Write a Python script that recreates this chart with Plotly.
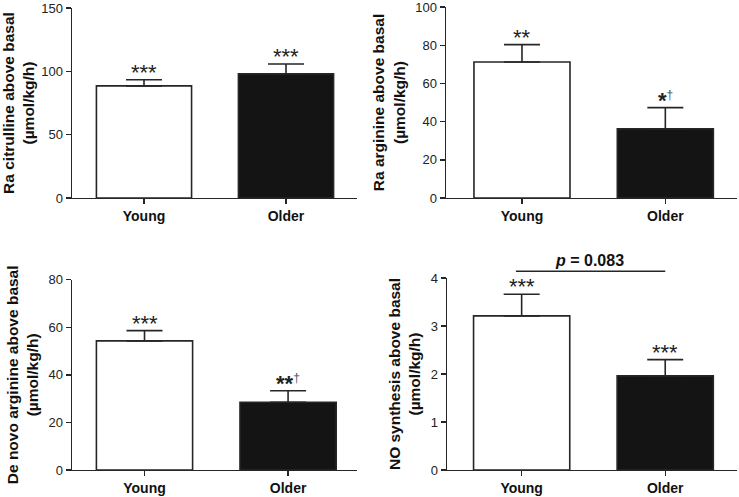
import plotly.graph_objects as go

groups = ["Young", "Older"]

DAG = "<sup><span style='font-size:12px;color:#555'>†</span></sup>"

ra_cit = [88.5, 98.0]
ra_cit_sem = [4.8, 7.8]
ra_cit_sig = ["***", "***"]

ra_arg = [71.2, 36.2]
ra_arg_sem = [9.1, 11.1]
ra_arg_sig = ["**", "<b>*</b>" + DAG]

denovo = [54.3, 28.5]
denovo_sem = [4.3, 4.8]
denovo_sig = ["***", "<b>**</b>" + DAG]

no_syn = [3.21, 1.96]
no_syn_sem = [0.45, 0.34]
no_syn_sig = ["***", "***"]

p_text = "<b><i>p</i> = 0.083</b>"

panels = [
    dict(vals=ra_cit, sem=ra_cit_sem, sig=ra_cit_sig, title="Ra citrulline above basal<br>(µmol/kg/h)",
         yrange=[0, 150], dtick=50, xd=[72, 357], yd=[8, 198], xr=[-0.507, 1.5]),
    dict(vals=ra_arg, sem=ra_arg_sem, sig=ra_arg_sig, title="Ra arginine above basal<br>(µmol/kg/h)",
         yrange=[0, 100], dtick=20, xd=[446, 737], yd=[7, 198], xr=[-0.53, 1.5]),
    dict(vals=denovo, sem=denovo_sem, sig=denovo_sig, title="De novo arginine above basal<br>(µmol/kg/h)",
         yrange=[0, 80], dtick=20, xd=[72, 357], yd=[279.7, 470], xr=[-0.505, 1.48]),
    dict(vals=no_syn, sem=no_syn_sem, sig=no_syn_sig, title="NO synthesis above basal<br>(µmol/kg/h)",
         yrange=[0, 4], dtick=1, xd=[447, 737], yd=[278, 470], xr=[-0.52, 1.5]),
]

W, H = 739, 497
INK = "#262626"
FONT = "Liberation Sans, Arial"
fig = go.Figure()
layout = {}
annotations = []
xs = list(range(len(groups)))

for i, p in enumerate(panels, start=1):
    sfx = "" if i == 1 else str(i)
    xa, ya = "x" + sfx, "y" + sfx
    fig.add_trace(go.Bar(
        x=xs, y=p["vals"], xaxis=xa, yaxis=ya, width=0.67,
        marker=dict(color=["white", "#141414"], line=dict(color=INK, width=1.6)),
        error_y=dict(type="data", array=p["sem"], arrayminus=[0] * len(groups),
                     symmetric=False, color=INK, thickness=1.6, width=18),
        showlegend=False, hoverinfo="skip",
    ))
    layout["xaxis" + sfx] = dict(
        domain=[p["xd"][0] / W, p["xd"][1] / W], anchor=ya, range=p["xr"],
        tickvals=xs, ticktext=["<b>%s</b>" % g for g in groups], automargin=False,
        showline=True, linecolor=INK, linewidth=1.4, ticks="outside", ticklen=5,
        tickwidth=1.4, tickcolor=INK, showgrid=False, zeroline=False,
        tickfont=dict(family=FONT, size=14, color="#111"), ticklabeloverflow="allow",
        fixedrange=True,
    )
    layout["yaxis" + sfx] = dict(
        domain=[1 - p["yd"][1] / H, 1 - p["yd"][0] / H], anchor=xa, range=p["yrange"],
        dtick=p["dtick"], tick0=0, automargin=False, ticklabeloverflow="allow",
        showline=True, linecolor=INK, linewidth=1.4, ticks="outside", ticklen=5,
        tickwidth=1.4, tickcolor=INK, showgrid=False, zeroline=False,
        tickfont=dict(family=FONT, size=13, color="#222"),
        title=dict(text="<b>%s</b>" % p["title"], standoff=6,
                   font=dict(family=FONT, size=15.5, color="#111")),
        fixedrange=True,
    )
    for j in xs:
        annotations.append(dict(
            x=j, y=p["vals"][j] + p["sem"][j], xref=xa, yref=ya, text=p["sig"][j],
            showarrow=False, yanchor="bottom", yshift=-7,
            font=dict(family=FONT, size=22, color="#222"),
        ))

# p-value comparison bar on the NO synthesis panel
ybar = 1.035
fig.add_shape(type="line", xref="x4", yref="y4 domain", x0=xs[0] - 0.04, x1=xs[1],
              y0=ybar, y1=ybar, line=dict(color=INK, width=1.4))
annotations.append(dict(
    x=(xs[0] + xs[1]) / 2 - 0.03, y=ybar, xref="x4", yref="y4 domain", text=p_text, showarrow=False,
    yanchor="bottom", yshift=0,
    font=dict(family=FONT, size=16, color="#111"),
))

fig.update_layout(
    width=W, height=H, margin=dict(l=0, r=0, t=0, b=0),
    paper_bgcolor="white", plot_bgcolor="white",
    annotations=annotations, **layout,
)
fig.write_html("out.html", config={"displayModeBar": False, "staticPlot": True},
               post_script="document.body.style.margin='0';document.body.style.overflow='hidden';")
